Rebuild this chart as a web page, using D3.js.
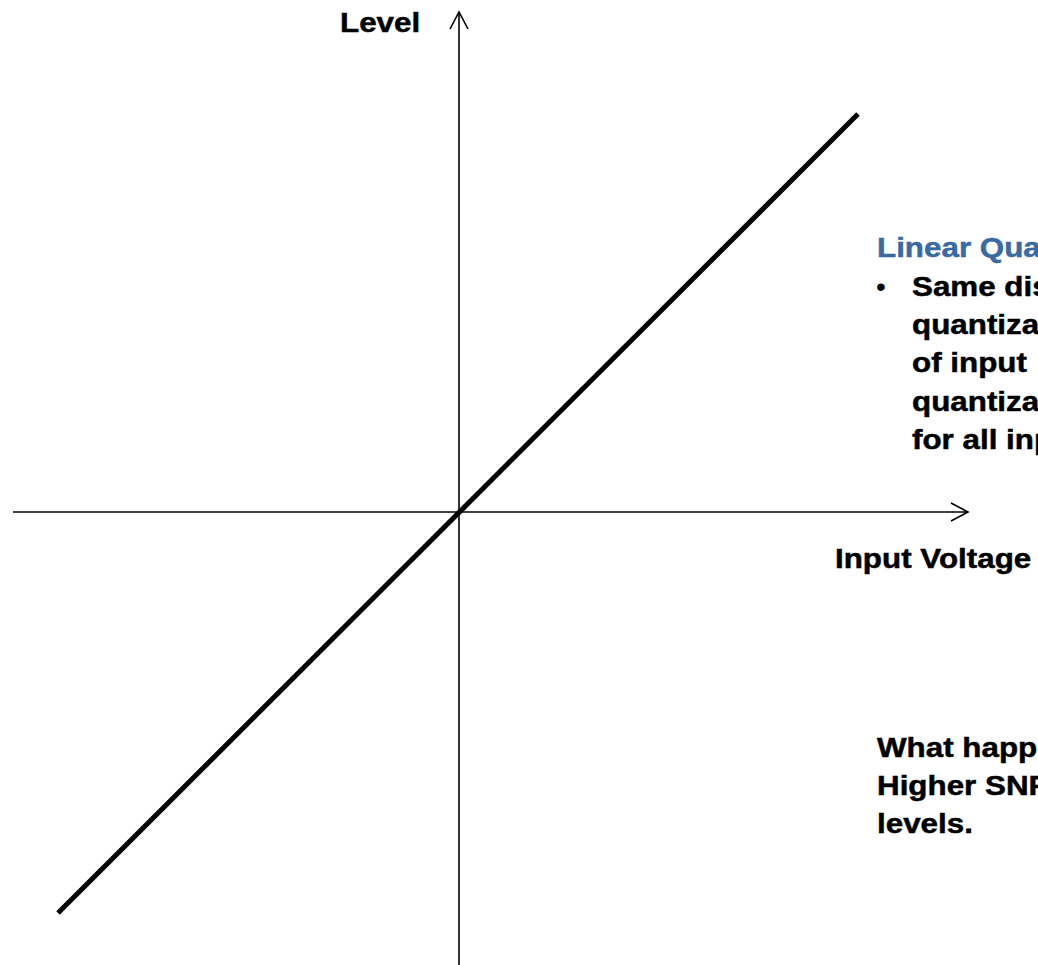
<!DOCTYPE html>
<html><head><meta charset="utf-8">
<script src="https://cdn.jsdelivr.net/npm/d3@7"></script>
<style>html,body{margin:0;padding:0;background:#fff;overflow:hidden}svg{display:block}</style>
</head><body><svg id="c" width="1038" height="965"></svg>
<script>
// Data (value units, origin at axes crossing)
const xAxisExtent = [-446, 509];
const yAxisExtent = [-453, 500];
const lineX = [-401, 399];
const lineY = [-401, 398];
const axisLabels = ["Input Voltage", "Level"];
const titleText = ["Linear Quantization"];
const bulletLines = ["Same distance", "quantization", "of input", "quantization", "for all input"];
const questionLines = ["What happens", "Higher SNR", "levels."];

const svg = d3.select("#c");
const x = d3.scaleLinear().domain(xAxisExtent).range([13, 968]);
const y = d3.scaleLinear().domain(yAxisExtent).range([965, 12]);

// axes
svg.append("line").attr("x1", x(xAxisExtent[0])).attr("x2", x(xAxisExtent[1]))
  .attr("y1", y(0)).attr("y2", y(0)).attr("stroke", "#000").attr("stroke-width", 1.6);
svg.append("line").attr("x1", x(0)).attr("x2", x(0))
  .attr("y1", y(yAxisExtent[0])).attr("y2", y(yAxisExtent[1])).attr("stroke", "#000").attr("stroke-width", 1.6);
// arrowheads
const xe = x(xAxisExtent[1]), ye = y(yAxisExtent[1]);
svg.append("path").attr("d", `M${xe-17},${y(0)-9}L${xe},${y(0)}L${xe-17},${y(0)+9}`)
  .attr("fill", "none").attr("stroke", "#000").attr("stroke-width", 1.6);
svg.append("path").attr("d", `M${x(0)-9},${ye+17}L${x(0)},${ye}L${x(0)+9},${ye+17}`)
  .attr("fill", "none").attr("stroke", "#000").attr("stroke-width", 1.6);

// diagonal line
const pts = lineX.map((v, i) => [v, lineY[i]]);
svg.append("path").datum(pts)
  .attr("d", d3.line().x(d => x(d[0])).y(d => y(d[1])))
  .attr("fill", "none").attr("stroke", "#000").attr("stroke-width", 5);

const sx = 1.12, fs = 28, ff = "'Liberation Sans', Arial, sans-serif";
function txt(str, tx, ty, color) {
  const c = color || "#000";
  svg.append("text").attr("transform", `translate(${tx},${ty}) scale(${sx},1)`)
    .attr("font-family", ff).attr("font-weight", "bold").attr("font-size", fs)
    .attr("fill", c).attr("stroke", c).attr("stroke-width", 0.5).text(str);
}
txt(axisLabels[1], 340, 32);
txt(axisLabels[0], 835, 568);
txt(titleText[0], 877, 257, "#3a6aa2");
svg.append("text").attr("x", 876).attr("y", 296).attr("font-family", ff)
  .attr("font-size", fs).attr("fill", "#000").text("•");
bulletLines.forEach((s, i) => txt(s, 912, 296 + i * 38.2));
questionLines.forEach((s, i) => txt(s, 877, 757 + i * 38.2));
</script></body></html>
